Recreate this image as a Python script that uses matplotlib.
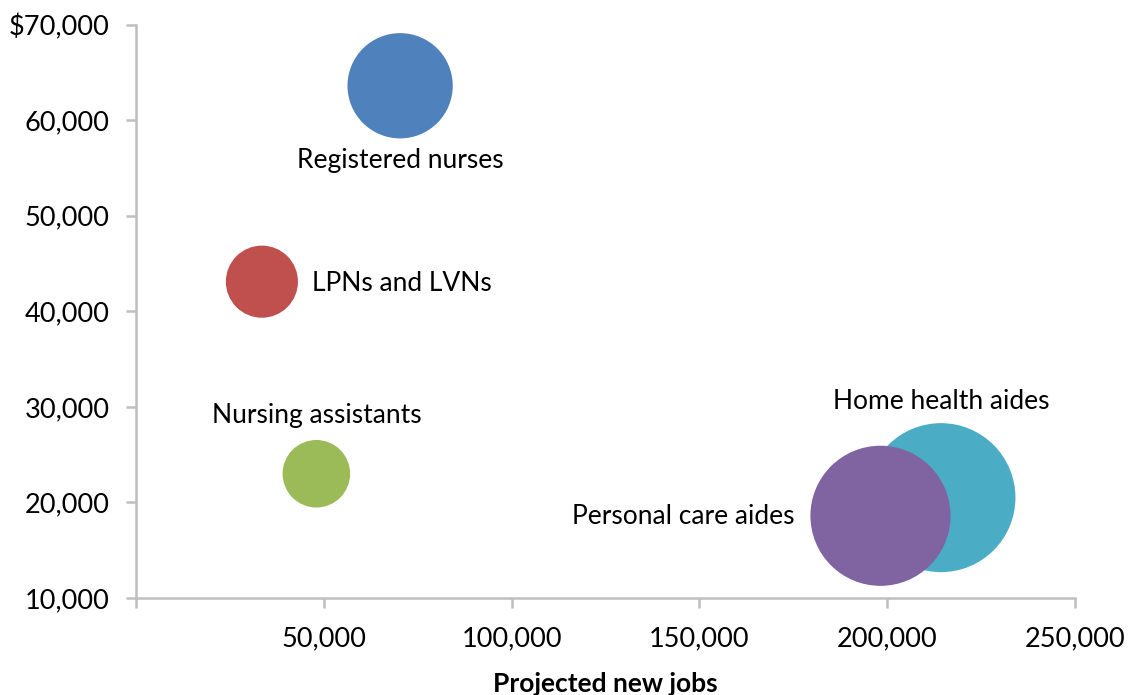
import numpy as np
from matplotlib import pyplot as plt
from matplotlib.ticker import FuncFormatter

plt.rcParams['font.family'] = ['Lato', 'DejaVu Sans']

occupations = ['Registered nurses', 'LPNs and LVNs', 'Nursing assistants',
               'Home health aides', 'Personal care aides']
new_jobs = [70300, 33500, 48000, 214300, 198200]
median_wage = [63600, 43100, 23000, 20500, 18600]
bubble_size = [2770, 1300, 1140, 5550, 4910]
colors = ['#4F81BD', '#C0504D', '#9BBB59', '#4BACC6', '#8064A2']

# label placement: (dx, dy) in points to the baseline, ha
label_pos = [((0, -59.3), 'center'),
             ((36, -6.5), 'left'),
             ((0, 36.5), 'center'),
             ((0, 63.7), 'center'),
             ((-61.6, -5.8), 'right')]

fig = plt.figure(figsize=(11.34, 6.95), dpi=100)
ax = fig.add_axes([0.12, 0.1396, 0.828, 0.825])

sizes = [2.0736 * b for b in bubble_size]
ax.scatter(new_jobs, median_wage, s=sizes, c=colors, edgecolors='none',
           zorder=3, clip_on=False)

for name, x, y, (off, ha) in zip(occupations, new_jobs, median_wage, label_pos):
    ax.annotate(name, (x, y), xytext=off, textcoords='offset points',
                ha=ha, va='baseline', fontsize=19, color='black')

ax.set_xlim(0, 250000)
ax.set_ylim(10000, 70000)
ax.set_xticks(np.arange(0, 250001, 50000))
ax.set_yticks(np.arange(10000, 70001, 10000))

def xfmt(v, pos):
    return '' if v == 0 else f'{int(v):,}'

def yfmt(v, pos):
    s = f'{int(v):,}'
    return '$' + s if v == 70000 else s

ax.xaxis.set_major_formatter(FuncFormatter(xfmt))
ax.yaxis.set_major_formatter(FuncFormatter(yfmt))

for side in ['top', 'right']:
    ax.spines[side].set_visible(False)
for side in ['left', 'bottom']:
    ax.spines[side].set_color('#BFBFBF')
    ax.spines[side].set_linewidth(1.8)
ax.tick_params(axis='both', direction='out', length=7, width=1.8,
               color='#BFBFBF', labelsize=19.5, labelcolor='black')
ax.tick_params(axis='x', pad=13.5)
ax.tick_params(axis='y', pad=12)

ax.set_xlabel('Projected new jobs', fontsize=19, fontweight='bold', labelpad=15)

fig.savefig('out.png', dpi=100)
